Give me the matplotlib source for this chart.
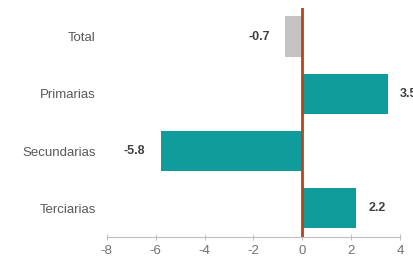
import matplotlib.pyplot as plt

categories = ["Total", "Primarias", "Secundarias", "Terciarias"]
values = [-0.7, 3.5, -5.8, 2.2]
bar_colors = ["#c3c3c3", "#109c9c", "#109c9c", "#109c9c"]
xticks = [-8, -6, -4, -2, 0, 2, 4]

plt.rcParams["font.family"] = ["Liberation Sans", "DejaVu Sans"]
plt.rcParams["axes.unicode_minus"] = False

fig = plt.figure(figsize=(4.14, 2.63), dpi=100)
ax = fig.add_axes([0.258, 0.099, 0.708, 0.871])

ypos = list(range(len(categories)))
ax.barh(ypos, values, height=0.7, color=bar_colors, zorder=2)
ax.axvline(0, color="#b8431c", linewidth=2, zorder=3)

for y, v in zip(ypos, values):
    off = 9 if v > 0 else -11
    ax.annotate(f"{v:.1f}", (v, y), xytext=(off, 0), textcoords="offset points",
                ha="left" if v > 0 else "right", va="center",
                fontsize=9, fontweight="bold", color="#404040",
                annotation_clip=False)

ax.set_xlim(-8, 4)
ax.set_ylim(3.5, -0.5)
ax.set_xticks(xticks)
ax.set_yticks(ypos)
ax.set_yticklabels(categories)

for s in ["top", "right", "left"]:
    ax.spines[s].set_visible(False)
ax.spines["bottom"].set_color("#bfbfbf")
ax.tick_params(axis="y", length=0, pad=8, labelsize=9.5, labelcolor="#595959")
ax.tick_params(axis="x", length=4, direction="inout", color="#bfbfbf",
               labelsize=9.5, labelcolor="#707070", pad=4)

fig.savefig("out.png", dpi=100)
